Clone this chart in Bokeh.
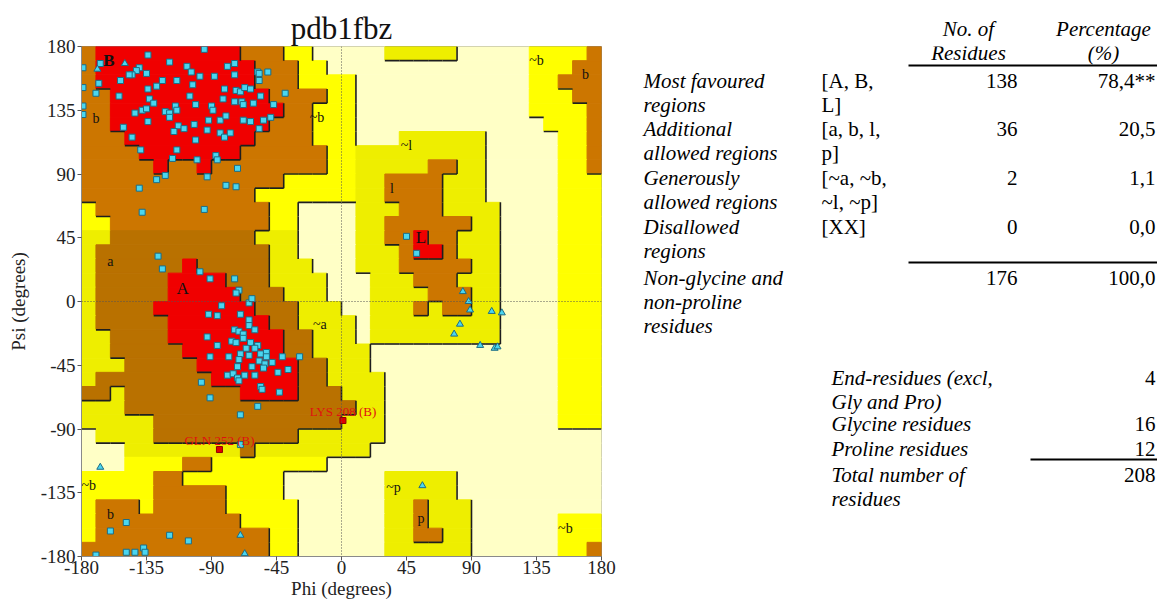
from bokeh.plotting import figure
from bokeh.layouts import row
from bokeh.models import (Range1d, FixedTicker, ColumnDataSource, Span, Plot, Label,
                          Segment, LinearAxis)
from bokeh.embed import file_html
from bokeh.resources import INLINE
from bokeh.core.properties import value

# ---------------- data ----------------
TITLE = "pdb1fbz"
X_LABEL = "Phi (degrees)"
Y_LABEL = "Psi (degrees)"
ANGLE_TICKS = [-180, -135, -90, -45, 0, 45, 90, 135, 180]

# Ramachandran region map: 36 rows (psi 180 -> -180) of 10-degree cells,
# run-length coded from phi -180 to 180.
# R core, B/D additional allowed, Y/G generously allowed, C disallowed
REGION_RUNS = [
    "B1 R10 B3 Y2 C5 G5 C5 Y4 B1",
    "B1 R11 B3 Y2 C14 Y3 B2",
    "B1 R11 B3 Y4 C12 Y2 B3",
    "B2 R11 B4 Y2 C12 Y3 B2",
    "B2 R12 B2 Y3 C12 Y4 B1",
    "B2 R11 B3 Y3 C13 Y3 B1",
    "B3 R9 B4 Y3 C3 G6 C5 Y2 B1",
    "B4 R7 B6 Y2 G9 C5 Y2 B1",
    "B5 R1 B2 R1 B8 Y2 G5 B2 G2 C5 Y2 B1",
    "B14 Y5 G2 B4 G3 C5 Y3",
    "B12 Y7 G2 B4 G3 C5 Y3",
    "Y1 B12 Y2 C4 G3 B3 G4 C4 Y3",
    "Y2 B11 Y2 C4 G2 B6 G2 C4 Y3",
    "G2 D10 G3 C4 G2 B2 R1 B2 G3 C4 Y3",
    "G1 D12 G2 C4 G3 B1 R2 B1 G3 C4 Y3",
    "G1 D6 R1 D5 G3 C3 G3 B5 G2 C4 Y3",
    "G1 D5 R4 D3 G4 C3 G3 B3 G3 C4 Y3",
    "G1 D5 R5 D3 G3 C3 G4 B3 G2 C4 Y3",
    "G1 D4 R7 D3 G3 C2 G3 B1 G1 B2 G2 C4 Y3",
    "G1 D5 R7 D2 G4 C1 G9 C4 Y3",
    "G2 D4 R8 D2 G3 C1 G9 C4 Y3",
    "G2 D5 R7 D2 G4 C13 Y3",
    "G3 D5 R7 D2 G3 C13 Y3",
    "G1 D8 R6 D2 G4 C12 Y3",
    "D2 G1 D8 R4 D3 G3 C12 Y3",
    "G3 D16 G2 C12 Y3",
    "G5 D13 G3 C12 Y3",
    "C1 G4 D10 G6 C15",
    "C3 G8 D1 G8 C16",
    "C3 Y4 B2 Y8 C19",
    "Y5 B2 Y7 C7 G5 C10",
    "Y5 B5 Y4 C7 G5 C10",
    "Y1 B3 Y1 B5 Y5 C6 G2 B1 G3 C9",
    "Y1 B10 Y4 C6 G2 B1 G3 C6 Y3",
    "Y1 B12 Y2 C6 G2 B2 G2 C6 Y3",
    "B13 Y2 C6 G6 C6 Y2 B1",
]
REGION_COLORS = {"R": "#f00000", "B": "#cc7600", "D": "#b97100",
                 "Y": "#ffff00", "G": "#eeee00", "C": "#ffffc6"}
REGION_LEVEL = {"C": 0, "Y": 1, "G": 1, "B": 2, "D": 2, "R": 3}

REGION_LABELS = ["B", "b", "~b", "A", "a", "~a", "L", "l", "~l",
                 "~b", "b", "~b", "b", "~p", "p", "~b"]
REGION_LABEL_PHI = [-161, -170, -17, -110, -160, -15, 55, 35, 45,
                    135, 169, -175, -160, 36, 55, 155]
REGION_LABEL_PSI = [170, 129, 130, 9, 28, -16, 45, 80, 110,
                    170, 160, -130, -150, -131, -153, -160]

# non-glycine residues (squares)
BETA_POINTS = [
    (-95, 178), (-134, 174), (-179, 165), (-167, 168), (-140, 165), (-142, 163),
    (-145, 160), (-147, 160), (-135, 161), (-119, 169), (-107, 166), (-104, 162),
    (-98, 159), (-88, 159), (-79, 166), (-74, 168), (-74, 160), (-58, 162),
    (-51, 162), (-153, 156), (-134, 150), (-128, 152), (-124, 156), (-114, 156),
    (-103, 153), (-105, 145), (-101, 139), (-90, 138), (-89, 135), (-82, 143),
    (-81, 150), (-73, 149), (-74, 141), (-70, 148), (-67, 151), (-63, 150),
    (-69, 141), (-68, 139), (-61, 140), (-56, 145), (-57, 156), (-57, 161),
    (-47, 139), (-39, 147), (-179, 151), (-170, 147), (-168, 154), (-179, 138),
    (-179, 132), (-154, 145), (-133, 143), (-130, 140), (-143, 133), (-138, 135),
    (-135, 136), (-134, 127), (-122, 134), (-119, 133), (-119, 130), (-115, 138),
    (-114, 135), (-113, 124), (-116, 120), (-109, 122), (-102, 125), (-101, 114),
    (-92, 128), (-93, 121), (-84, 128), (-84, 119), (-81, 116), (-80, 131),
    (-77, 119), (-68, 128), (-63, 127), (-54, 128), (-49, 130), (-57, 122),
    (-151, 123), (-145, 116), (-139, 107), (-117, 101), (-114, 107), (-100, 100),
    (-87, 103), (-86, 100), (-93, 88), (-122, 89), (-128, 86), (-140, 80),
    (-80, 82), (-73, 81), (-72, 94), (-95, 65), (-138, 63),
]
ALPHA_POINTS = [
    (-127, 32), (-124, 23), (-98, 21), (-91, 16), (-74, 16), (-71, 8), (-73, 6),
    (-64, -1), (-62, 2), (-83, -3), (-92, -9), (-86, -10), (-70, -9), (-64, -13),
    (-64, -17), (-60, -20), (-74, -20), (-71, -21), (-68, -23), (-68, -26),
    (-93, -25), (-76, -28), (-73, -29), (-63, -29), (-58, -31), (-66, -33),
    (-60, -33), (-86, -31), (-70, -37), (-64, -38), (-56, -37), (-52, -36),
    (-52, -39), (-57, -42), (-53, -44), (-48, -43), (-41, -39), (-29, -39),
    (-91, -39), (-78, -39), (-71, -41), (-62, -46), (-54, -47), (-44, -50),
    (-37, -48), (-72, -46), (-79, -52), (-75, -51), (-67, -52), (-60, -52),
    (-72, -54), (-71, -56), (-56, -60), (-55, -62), (-97, -57), (-91, -68),
    (-70, -80), (-58, -74), (-43, -64), (-70, -101),
]
OTHER_POINTS = [
    (45, 46), (52, 34), (-149, -156), (-160, -162), (-119, -165), (-106, -169),
    (-149, -177), (-143, -177), (-137, -174), (-136, -177), (-170, -179),
]
# glycine residues (triangles)
GLY_POINTS = [
    (84, 7), (88, 0), (89, -6), (104, -7), (111, -8), (82, -16), (78, -23),
    (96, -31), (106, -33), (108, -32), (56, -130), (-150, 168), (-169, 164),
    (-167, -117), (-70, -165), (-67, -178),
]
# labelled residues in generously allowed regions
OUTLIER_NAMES = ["GLN 252 (B)", "LYS 208 (B)"]
OUTLIER_PHI = [-84.5, 1]
OUTLIER_PSI = [-104.5, -84]

# statistics table
HEADERS = [["No. of", "Residues"], ["Percentage", "(%)"]]
CATEGORY_LINES = [["Most favoured", "regions"], ["Additional", "allowed regions"],
                  ["Generously", "allowed regions"], ["Disallowed", "regions"],
                  ["Non-glycine and", "non-proline", "residues"]]
REGION_CODES = [["[A, B,", "L]"], ["[a, b, l,", "p]"], ["[~a, ~b,", "~l, ~p]"],
                ["[XX]"], []]
N_RESIDUES = [138, 36, 2, 0, 176]
PERCENTAGES = ["78,4**", "20,5", "1,1", "0,0", "100,0"]
OTHER_LINES = [["End-residues (excl,", "Gly and Pro)"], ["Glycine residues"],
               ["Proline residues"], ["Total number of", "residues"]]
OTHER_COUNTS = [4, 16, 12, 208]

SERIF = "Liberation Serif"

# ---------------- Ramachandran plot ----------------
W1, H = 621, 603
FRAME_TOP, FRAME_BOTTOM = 46, 556
p = figure(width=W1, height=H, x_range=Range1d(-180, 180), y_range=Range1d(-180, 180),
           output_backend="svg", toolbar_location=None,
           min_border_left=81, min_border_right=20, min_border_top=FRAME_TOP,
           min_border_bottom=H - FRAME_BOTTOM)
p.title.text = TITLE
p.title.align = "center"
p.title.text_font = SERIF
p.title.text_font_size = "31px"
p.title.text_font_style = "normal"
p.title.text_color = "#111111"
p.title.standoff = 1
p.grid.grid_line_color = None
p.outline_line_color = "#8a8a8a"
p.background_fill_color = "white"

grid = []
for runs in REGION_RUNS:
    s = ""
    for tok in runs.split():
        s += tok[0] * int(tok[1:])
    assert len(s) == 36, runs
    grid.append(s)

ql, qr, qt, qb, qc = [], [], [], [], []
for r, s in enumerate(grid):
    top = 180 - 10 * r
    c = 0
    while c < 36:
        e = c
        while e < 36 and s[e] == s[c]:
            e += 1
        ql.append(-180 + 10 * c); qr.append(-180 + 10 * e)
        qt.append(top); qb.append(top - 10); qc.append(REGION_COLORS[s[c]])
        c = e
p.quad(left=ql, right=qr, top=qt, bottom=qb, fill_color=qc, line_color=qc, line_width=1)

# shadow edges where a region meets a lower one (right and bottom sides)
x0, y0, x1, y1 = [], [], [], []
for r in range(36):
    top = 180 - 10 * r
    for c in range(36):
        lv = REGION_LEVEL[grid[r][c]]
        left = -180 + 10 * c
        if c < 35 and lv > REGION_LEVEL[grid[r][c + 1]]:
            x0.append(left + 10); x1.append(left + 10); y0.append(top - 10); y1.append(top)
        if r < 35 and lv > REGION_LEVEL[grid[r + 1][c]]:
            x0.append(left); x1.append(left + 10); y0.append(top - 10); y1.append(top - 10)
p.segment(x0=x0, y0=y0, x1=x1, y1=y1, line_color="#1e1e1e", line_width=1.6)

p.add_layout(Span(location=0, dimension="height", line_color="#555555",
                  line_dash="1 2", line_width=1))
p.add_layout(Span(location=0, dimension="width", line_color="#555555",
                  line_dash="1 2", line_width=1))

lab_src = ColumnDataSource(dict(x=REGION_LABEL_PHI, y=REGION_LABEL_PSI, t=REGION_LABELS,
                                size=["17px" if t in ("A", "B", "L") else "14px" for t in REGION_LABELS],
                                style=["bold" if t == "B" else "normal" for t in REGION_LABELS]))
p.text(x="x", y="y", text="t", source=lab_src, text_font=value(SERIF),
       text_font_size="size", text_font_style="style", text_color="#111111",
       text_align="center", text_baseline="middle")

pts = BETA_POINTS + ALPHA_POINTS + OTHER_POINTS
p.scatter([a for a, b in pts], [b for a, b in pts], marker="square", size=6,
          fill_color="#4ad6f0", line_color="#1d6c84", line_width=1)
p.scatter([a for a, b in GLY_POINTS], [b for a, b in GLY_POINTS], marker="triangle",
          size=7, fill_color="#4ad6f0", line_color="#1d6c84", line_width=1)
p.scatter(OUTLIER_PHI, OUTLIER_PSI, marker="square", size=6,
          fill_color="#e00000", line_color="#900000", line_width=1)
p.text(x=OUTLIER_PHI, y=OUTLIER_PSI, text=OUTLIER_NAMES, text_font=value(SERIF),
       text_font_size="13px", text_color="#e01010", text_align="center",
       text_baseline="middle", y_offset=-9)

for ax, lab in ((p.xaxis, X_LABEL), (p.yaxis, Y_LABEL)):
    ax.ticker = FixedTicker(ticks=ANGLE_TICKS)
    ax.major_label_overrides = {t: str(t) for t in ANGLE_TICKS}
    ax.axis_label = lab
    ax.axis_label_text_font = SERIF
    ax.axis_label_text_font_style = "normal"
    ax.axis_label_text_font_size = "19px"
    ax.axis_label_text_color = "#222222"
    ax.major_label_text_font = SERIF
    ax.major_label_text_font_size = "19px"
    ax.major_label_text_color = "#222222"
    ax.minor_tick_line_color = None
    ax.major_tick_in = 0
    ax.major_tick_out = 4
    ax.major_tick_line_color = "#555555"
    ax.axis_line_color = "#8a8a8a"
p.xaxis.major_label_standoff = 0
p.xaxis.axis_label_standoff = 1
p.yaxis.major_label_standoff = 2
p.yaxis.axis_label_standoff = 9

# ---------------- table (page pixel coordinates) ----------------
# the row layout aligns this plot's frame with the Ramachandran frame
X_START = W1
W2 = 1157 - X_START
t = Plot(width=W2, height=H, x_range=Range1d(X_START, X_START + W2),
         y_range=Range1d(FRAME_BOTTOM, FRAME_TOP),
         output_backend="svg", toolbar_location=None, min_border=0, title=None,
         outline_line_color=None)

LINE_H = 24.3
ROW_Y = [80, 128, 177, 226, 277]
HEAD_Y = 28
HEAD_X = [968, 1103]
LBL_X, CODE_X, NUM_R, PCT_R = 643, 821, 1017, 1155
OTHER_Y = [377, 423, 448, 474]
OTHER_X = 831

# first header line sits above the frame: draw it as an axis on top
head_axis = LinearAxis(ticker=FixedTicker(ticks=HEAD_X),
                       major_label_overrides={hx: lines[0] for hx, lines in zip(HEAD_X, HEADERS)},
                       major_label_text_font=SERIF, major_label_text_font_style="italic",
                       major_label_text_font_size="21px", major_label_text_color="black",
                       major_label_standoff=6, major_tick_in=0, major_tick_out=0,
                       major_tick_line_color=None, minor_tick_line_color=None,
                       axis_line_color=None)
t.add_layout(head_axis, "above")

cells = []  # (x, y, text, align, style)
for hx, lines in zip(HEAD_X, HEADERS):
    for k, s in enumerate(lines[1:], start=1):
        cells.append((hx, HEAD_Y + k * LINE_H, s, "center", "italic"))
for y, cat, code, n, pct in zip(ROW_Y, CATEGORY_LINES, REGION_CODES, N_RESIDUES, PERCENTAGES):
    for k, s in enumerate(cat):
        cells.append((LBL_X, y + k * LINE_H, s, "left", "italic"))
    for k, s in enumerate(code):
        cells.append((CODE_X, y + k * LINE_H, s, "left", "normal"))
    cells.append((NUM_R, y, str(n), "right", "normal"))
    cells.append((PCT_R, y, pct, "right", "normal"))
for y, lines, n in zip(OTHER_Y, OTHER_LINES, OTHER_COUNTS):
    for k, s in enumerate(lines):
        cells.append((OTHER_X, y + k * LINE_H, s, "left", "italic"))
    cells.append((PCT_R, y, str(n), "right", "normal"))

for cx, cy, s, al, st in cells:
    t.add_layout(Label(x=cx, y=cy, text=s, text_align=al, text_baseline="middle",
                       text_font=SERIF, text_font_style=st, text_font_size="21px",
                       text_color="black"))
t.add_glyph(ColumnDataSource(dict(x0=[908, 908, 1030], y0=[65, 262, 459],
                                  x1=[1157, 1157, 1157], y1=[65, 262, 459])),
            Segment(x0="x0", y0="y0", x1="x1", y1="y1", line_color="black", line_width=2))

layout = row(p, t)
open("out.html", "w").write(file_html(layout, INLINE, title=TITLE))
